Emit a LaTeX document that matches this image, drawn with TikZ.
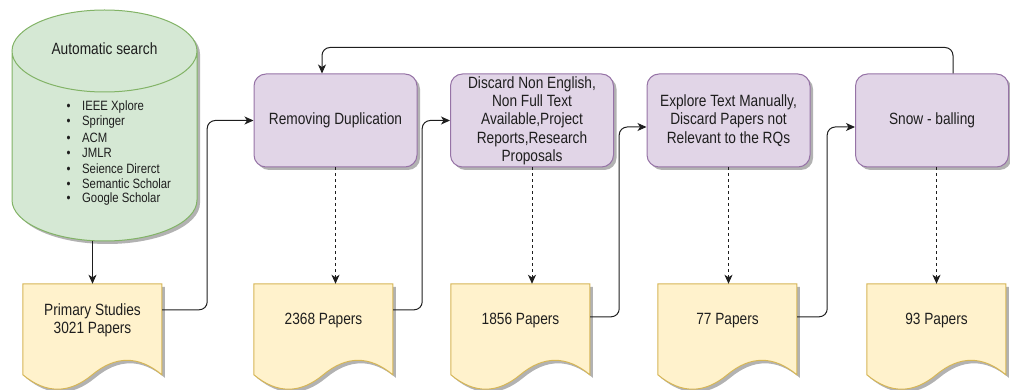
\documentclass[tikz,border=0pt]{standalone}
\usepackage{fontspec}
\setmainfont{Liberation Sans}
\newfontfamily\narrowsans{Liberation Sans}[FakeStretch=0.84]
\usetikzlibrary{shadows,arrows.meta}

\definecolor{gfill}{HTML}{D5E8D4}
\definecolor{gstroke}{HTML}{82B366}
\definecolor{pfill}{HTML}{E1D5E7}
\definecolor{pstroke}{HTML}{9673A6}
\definecolor{yfill}{HTML}{FFF2CC}
\definecolor{ystroke}{HTML}{D6B656}
\definecolor{ink}{HTML}{1E1E1E}

\newcommand{\boxfont}{\narrowsans\fontsize{16.3}{18.3}\selectfont}
\newcommand{\itemfont}{\narrowsans\fontsize{13.5}{15.3}\selectfont}

\begin{document}
\begin{tikzpicture}[x=1pt,y=-1pt,
  softshadow/.style={drop shadow={shadow xshift=3pt,shadow yshift=-3pt,opacity=0.3,fill=black}},
  process/.style={draw=pstroke, fill=pfill, line width=1pt, rounded corners=12pt,
    minimum width=163pt, minimum height=93pt, inner sep=0pt, align=center,
    font=\boxfont, text=ink, softshadow},
  docarea/.style={minimum width=139pt, minimum height=107pt, inner sep=0pt},
  docshape/.style={draw=ystroke, fill=yfill, line width=1pt, softshadow},
  doctext/.style={font=\boxfont, align=center, text=ink, inner sep=0pt},
  itemtext/.style={font=\itemfont, text=ink, anchor=west, inner sep=0pt},
  conn/.style={draw=ink, line width=1pt, rounded corners=8pt,
    -{Stealth[length=9pt,width=8pt,inset=2.5pt]}},
  dashconn/.style={conn, dash pattern=on 3pt off 3pt},
]
\useasboundingbox (0,0) rectangle (1010,390);

% ---- database cylinder ----
\path[fill=gfill, softshadow]
  (12,51) -- (12,200)
  .. controls (12,222.6) and (53.4,241) .. (104.5,241)
  .. controls (155.6,241) and (197,222.6) .. (197,200)
  -- (197,51)
  .. controls (197,28.4) and (155.6,10) .. (104.5,10)
  .. controls (53.4,10) and (12,28.4) .. (12,51) -- cycle;
\draw[gstroke, line width=1pt]
  (12,51) -- (12,200)
  .. controls (12,222.6) and (53.4,241) .. (104.5,241)
  .. controls (155.6,241) and (197,222.6) .. (197,200)
  -- (197,51)
  .. controls (197,28.4) and (155.6,10) .. (104.5,10)
  .. controls (53.4,10) and (12,28.4) .. (12,51)
  .. controls (12,73.6) and (53.4,92) .. (104.5,92)
  .. controls (155.6,92) and (197,73.6) .. (197,51);
\node[font=\boxfont, text=ink] (cyl) at (104.5,49) {Automatic search};
\foreach \t [count=\i] in {IEEE Xplore,Springer,ACM,JMLR,Seience Direrct,Semantic Scholar,Google Scholar}
  \node[itemtext, name=src\i] at (66.5,91.7+15.3*\i) {\textbullet\hspace{11.5pt}\t};
\coordinate (cylbase) at (92.5,240.6);

% ---- process steps ----
\node[process] (box1) at (335.5,120.5) {Removing Duplication};
\node[process] (box2) at (532,120.5) {Discard Non English,\\Non Full Text\\Available,Project\\Reports,Research\\Proposals};
\node[process] (box3) at (728.5,120.5) {Explore Text Manually,\\Discard Papers not\\Relevant to the RQs};
\node[process, minimum width=153pt] (box4) at (932,120.5) {Snow - balling};

% ---- paper sets (document shapes) ----
\node[docarea] (doc1) at (92.5,337.5) {};
\node[docarea] (doc2) at (323.5,337.5) {};
\node[docarea] (doc3) at (520.5,337.5) {};
\node[docarea] (doc4) at (727.5,337.5) {};
\node[docarea] (doc5) at (936.5,337.5) {};
\foreach \d in {doc1,doc2,doc3,doc4,doc5}{
  \path[docshape, shift={(\d.north west)}]
    (0,0) -- (139,0) -- (139,90.95)
    .. controls (115.83,71.69) and (92.67,71.69) .. (69.5,90.95)
    .. controls (46.33,110.21) and (23.17,110.21) .. (0,90.95) -- cycle;
}
\node[doctext] (t1) at ([yshift=17pt]doc1.center) {Primary Studies\\3021 Papers};
\node[doctext] (t2) at ([yshift=17pt]doc2.center) {2368 Papers};
\node[doctext] (t3) at ([yshift=17pt]doc3.center) {1856 Papers};
\node[doctext] (t4) at ([yshift=17pt]doc4.center) {77 Papers};
\node[doctext] (t5) at ([yshift=17pt]doc5.center) {93 Papers};

% ---- flow connectors ----
\draw[conn] (cylbase) -- (doc1.north);
\draw[conn] ([yshift=-26pt]doc1.north east) -- ++(45,0) |- (box1.west);
\draw[conn] ([yshift=-26pt]doc2.north east) -- ++(29,0) |- (box2.west);
\draw[conn] ([yshift=-33pt]doc3.north east) -- ++(29,0) |- ([yshift=-6.5pt]box3.west);
\draw[conn] ([yshift=-33pt]doc4.north east) -- ++(30,0) |- ([yshift=-6.5pt]box4.west);
\draw[conn] ([xshift=21pt]box4.north) -- ++(0,-26) -| ([xshift=-13.5pt]box1.north);

% ---- results of each step ----
\draw[dashconn] (box1.south) -- (box1.south |- doc2.north);
\draw[dashconn] (box2.south) -- (box2.south |- doc3.north);
\draw[dashconn] (box3.south) -- (box3.south |- doc4.north);
\draw[dashconn] (box4.south -| doc5.north) -- (doc5.north);
\end{tikzpicture}
\end{document}
